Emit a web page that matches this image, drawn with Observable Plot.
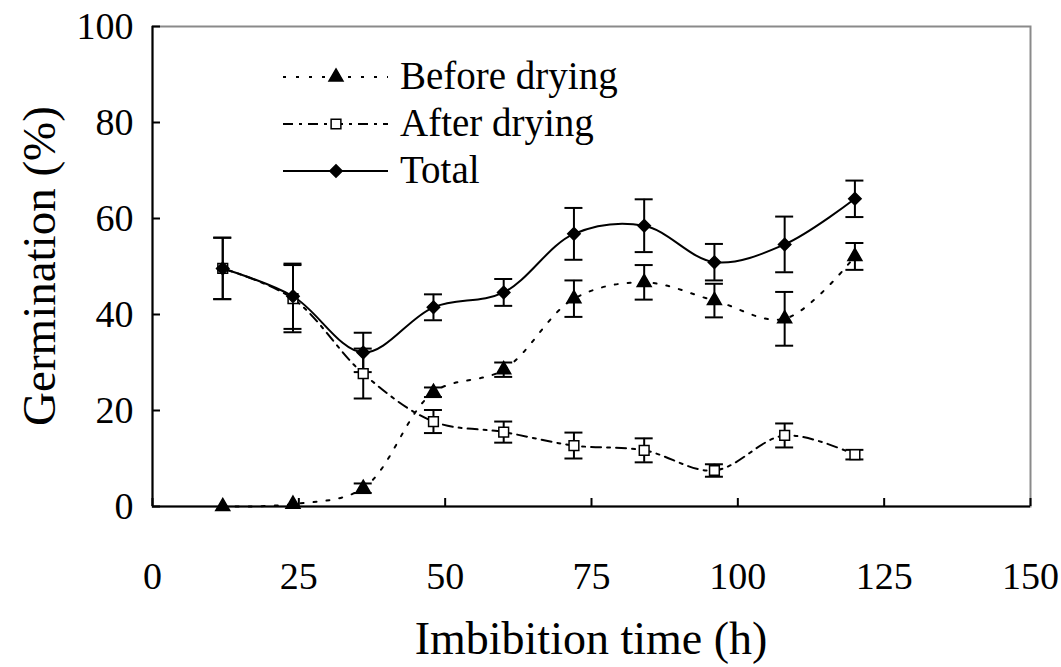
<!DOCTYPE html>
<html><head><meta charset="utf-8">
<script src="https://cdn.jsdelivr.net/npm/d3@7"></script>
<script src="https://cdn.jsdelivr.net/npm/@observablehq/plot@0.6"></script>
<style>
body{margin:0;background:#fff;}
#wrap{position:relative;width:1061px;height:667px;background:#fff;}
#overlay{position:absolute;left:0;top:0;}
</style></head><body><div id="wrap"></div>
<script>
const hours = [12, 24, 36, 48, 60, 72, 84, 96, 108, 120];
const beforeDrying = [0, 0.5, 3.8, 23.8, 28.5, 43.3, 46.7, 42.9, 39.1, 52.1];
const beforeErr = [0, 0, 1, 1, 1.5, 3.8, 3.6, 3.5, 5.6, 2.8];
const afterDrying = [49.6, 43.3, 27.7, 17.7, 15.5, 12.7, 11.7, 7.5, 14.8, 10.8];
const afterErr = [6.4, 7, 5.2, 2.4, 2.2, 2.7, 2.5, 1.3, 2.5, 1];
const total = [49.6, 43.8, 32.1, 41.5, 44.6, 56.8, 58.5, 50.9, 54.6, 64.1];
const totalErr = [6.4, 6.8, 4.1, 2.7, 2.8, 5.4, 5.5, 3.8, 5.8, 3.8];
const xTicks = [0, 25, 50, 75, 100, 125, 150];
const yTicks = [0, 20, 40, 60, 80, 100];
const seriesNames = ["Before drying", "After drying", "Total"];
const xLabel = "Imbibition time (h)";
const yLabel = "Germination (%)";

const FONT = '"Liberation Serif", "Times New Roman", monospace';
const W = 1061, H = 667;
const mL = 152, mR = 31, mT = 26, mB = 161;
const plotW = W - mL - mR, plotH = H - mT - mB;

const mk = (name, vals, errs) => hours.map((h, i) => ({series: name, x: h, y: vals[i], err: errs[i]}));
const before = mk(seriesNames[0], beforeDrying, beforeErr);
const after = mk(seriesNames[1], afterDrying, afterErr);
const tot = mk(seriesNames[2], total, totalErr);
const all = [...before, ...after, ...tot].filter(d => d.err > 0);

const styles = {
  [seriesNames[0]]: {dash: "3,10", symbol: "triangle", r: 5.2, fill: "black"},
  [seriesNames[1]]: {dash: "10,6,3,6", symbol: "square", r: 5.5, fill: "white"},
  [seriesNames[2]]: {dash: null, symbol: "diamond2", r: 5.6, fill: "black"}
};

const errMarks = [
  Plot.ruleX(all, {x: "x", y1: d => d.y - d.err, y2: d => d.y + d.err, stroke: "black", strokeWidth: 2}),
  Plot.ruleY(all, {y: d => d.y - d.err, x1: "x", x2: "x", insetLeft: -9, insetRight: -9, stroke: "black", strokeWidth: 2}),
  Plot.ruleY(all, {y: d => d.y + d.err, x1: "x", x2: "x", insetLeft: -9, insetRight: -9, stroke: "black", strokeWidth: 2})
];

const lineMarks = [before, after, tot].map(data => {
  const s = styles[data[0].series];
  return Plot.line(data, {x: "x", y: "y", curve: "catmull-rom", stroke: "black", strokeWidth: 2, strokeDasharray: s.dash});
});
const dotMarks = [after, before, tot].map(data => {
  const s = styles[data[0].series];
  return Plot.dot(data, {x: "x", y: "y", symbol: () => s.symbol, r: s.r, fill: s.fill, stroke: "black", strokeWidth: 1.5});
});

const chart = Plot.plot({
  width: W, height: H,
  marginLeft: mL, marginRight: mR, marginTop: mT, marginBottom: mB,
  style: {fontSize: "38px", color: "black", background: "white"},
  x: {domain: [0, 150]},
  y: {domain: [0, 100]},
  symbol: {type: "identity"},
  marks: [
    Plot.frame({stroke: "#8a8a8a", strokeWidth: 2}),
    Plot.axisX(xTicks, {tickSize: 0, tickPadding: 56, label: null, fontSize: 38}),
    Plot.axisY(yTicks, {tickSize: 0, tickPadding: 19, label: null, fontSize: 38}),
    Plot.tickY(yTicks, {y: d => d, insetRight: plotW - 8, stroke: "black", strokeWidth: 2}),
    Plot.tickX(xTicks, {x: d => d, insetTop: plotH - 8, stroke: "black", strokeWidth: 2}),
    ...lineMarks,
    ...errMarks,
    ...dotMarks,
    Plot.ruleX([0], {stroke: "black", strokeWidth: 2}),
    Plot.ruleY([0], {stroke: "black", strokeWidth: 2})
  ]
});
chart.style.fontFamily = FONT;
chart.querySelectorAll("text").forEach(t => { t.style.fontFamily = FONT; });

const wrap = document.getElementById("wrap");
wrap.appendChild(chart);

// overlay: axis titles and legend
const ov = d3.select(wrap).append("svg").attr("id", "overlay").attr("width", W).attr("height", H)
  .style("pointer-events", "none").style("font-family", FONT);

ov.append("text").attr("x", mL + plotW / 2).attr("y", 654).attr("text-anchor", "middle")
  .style("font-family", FONT).attr("font-size", 46).text(xLabel);
ov.append("text").attr("transform", `translate(55,${mT + plotH / 2}) rotate(-90)`).attr("text-anchor", "middle")
  .style("font-family", FONT).attr("font-size", 47).text(yLabel);

const symMap = {triangle: d3.symbolTriangle, square: d3.symbolSquare, diamond2: d3.symbolDiamond2};
seriesNames.forEach((name, i) => {
  const s = styles[name];
  const cy = 77 + i * 47;
  ov.append("line").attr("x1", 283).attr("x2", 388).attr("y1", cy).attr("y2", cy)
    .attr("stroke", "black").attr("stroke-width", 2).attr("stroke-dasharray", s.dash);
  ov.append("path").attr("d", d3.symbol(symMap[s.symbol], Math.PI * s.r * s.r)())
    .attr("transform", `translate(336,${cy})`).attr("fill", s.fill).attr("stroke", "black").attr("stroke-width", 1.5);
  ov.append("text").attr("x", 400).attr("y", cy + 12).style("font-family", FONT).attr("font-size", 39).text(name);
});
</script>
</body></html>
